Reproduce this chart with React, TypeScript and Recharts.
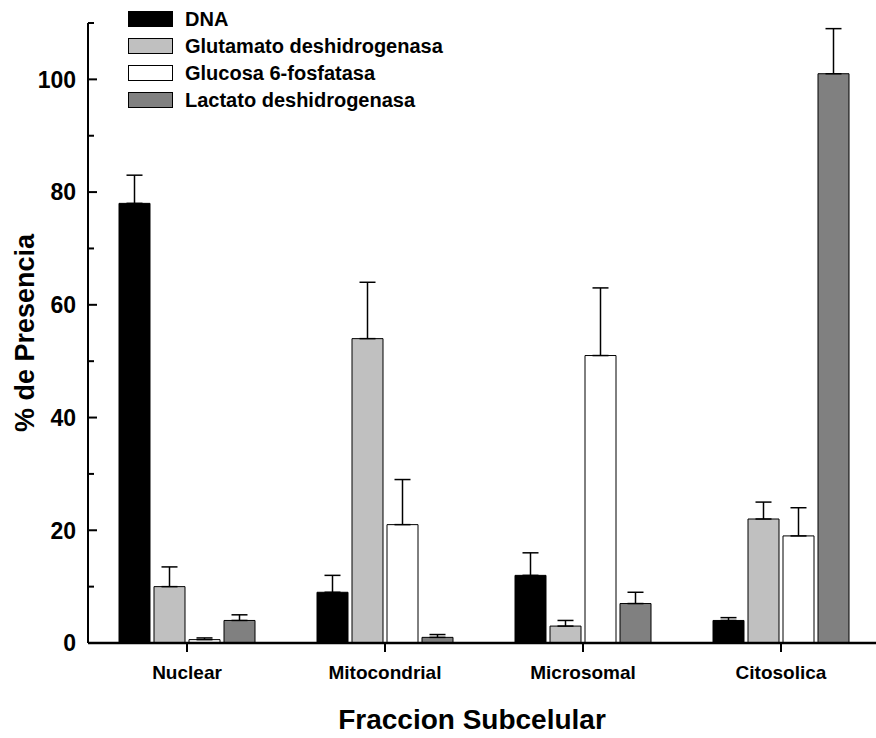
import { BarChart, Bar, XAxis, YAxis, ErrorBar } from "recharts";

const categories = ["Nuclear", "Mitocondrial", "Microsomal", "Citosolica"];

const dna = [78, 9, 12, 4];
const dnaErr = [5, 3, 4, 0.5];
const glut = [10, 54, 3, 22];
const glutErr = [3.5, 10, 1, 3];
const gluc = [0.6, 21, 51, 19];
const glucErr = [0.3, 8, 12, 5];
const ldh = [4, 1, 7, 101];
const ldhErr = [1, 0.5, 2, 8];

const yTicks = [0, 10, 20, 30, 40, 50, 60, 70, 80, 90, 100, 110];

const seriesInfo = [
  { key: "dna", name: "DNA", fill: "#000000" },
  { key: "glut", name: "Glutamato deshidrogenasa", fill: "#c0c0c0" },
  { key: "gluc", name: "Glucosa 6-fosfatasa", fill: "#ffffff" },
  { key: "ldh", name: "Lactato deshidrogenasa", fill: "#808080" },
];

const FONT = "'Liberation Sans', Arial, sans-serif";

const data = categories.map((c, i) => ({
  name: c,
  dna: dna[i],
  dnaErr: [0, dnaErr[i]],
  glut: glut[i],
  glutErr: [0, glutErr[i]],
  gluc: gluc[i],
  glucErr: [0, glucErr[i]],
  ldh: ldh[i],
  ldhErr: [0, ldhErr[i]],
}));

function YTick(props: any) {
  const { x, y, payload } = props;
  const major = payload.value % 20 === 0 && payload.value <= 100;
  return (
    <g>
      <line x1={x} x2={x + (major ? 9 : 6)} y1={y} y2={y} stroke="#000" strokeWidth={2} />
      {major && (
        <text
          x={x - 12}
          y={y}
          dy="0.36em"
          textAnchor="end"
          fontFamily={FONT}
          fontWeight="bold"
          fontSize={23}
          fill="#000"
        >
          {payload.value}
        </text>
      )}
    </g>
  );
}

// legend sits over the plot, top-left, like the original figure
function LegendBox() {
  return (
    <div
      style={{
        position: "absolute",
        left: 128,
        top: 5,
        fontFamily: FONT,
        fontWeight: "bold",
        fontSize: 20,
        lineHeight: "20px",
      }}
    >
      {seriesInfo.map((s) => (
        <div key={s.key} style={{ display: "flex", alignItems: "center", height: 27 }}>
          <div
            style={{
              width: 43,
              height: 14,
              background: s.fill,
              border: "1px solid #000",
              marginRight: 12,
            }}
          />
          <span>{s.name}</span>
        </div>
      ))}
    </div>
  );
}

export default function App() {
  return (
    <div
      style={{
        position: "absolute",
        left: 0,
        top: 0,
        width: 876,
        height: 738,
        overflow: "hidden",
        background: "#fff",
      }}
    >
      <BarChart
        width={884}
        height={738}
        data={data}
        margin={{ top: 23, right: 4, bottom: 0, left: 0 }}
        barSize={31}
        barGap={4}
      >
        <XAxis
          dataKey="name"
          height={95}
          axisLine={{ stroke: "#000", strokeWidth: 2.5 }}
          tickLine={{ stroke: "#000", strokeWidth: 2 }}
          tickSize={9}
          tickMargin={14}
          tick={{ fill: "#000", fontFamily: FONT, fontWeight: "bold", fontSize: 19 }}
          label={(p: any) => {
            const vb = p.viewBox;
            return (
              <text
                x={vb.x + vb.width / 2 - 12}
                y={729}
                textAnchor="middle"
                fontFamily={FONT}
                fontWeight="bold"
                fontSize={28}
                fill="#000"
              >
                Fraccion Subcelular
              </text>
            );
          }}
        />
        <YAxis
          width={88}
          domain={[0, 110]}
          ticks={yTicks}
          interval={0}
          axisLine={{ stroke: "#000", strokeWidth: 2 }}
          tickLine={false}
          tickSize={0}
          tickMargin={0}
          tick={<YTick />}
          label={(p: any) => {
            const vb = p.viewBox;
            const cy = vb.y + vb.height / 2;
            return (
              <text
                x={25}
                y={cy}
                transform={`rotate(-90 25 ${cy})`}
                textAnchor="middle"
                dominantBaseline="central"
                fontFamily={FONT}
                fontWeight="bold"
                fontSize={27}
                fill="#000"
              >
                % de Presencia
              </text>
            );
          }}
        />
        {seriesInfo.map((s) => (
          <Bar
            key={s.key}
            dataKey={s.key}
            name={s.name}
            fill={s.fill}
            stroke="#000"
            strokeWidth={1}
            isAnimationActive={false}
          >
            <ErrorBar
              dataKey={`${s.key}Err`}
              width={8}
              stroke="#000"
              strokeWidth={1.5}
              direction="y"
            />
          </Bar>
        ))}
      </BarChart>
      <LegendBox />
    </div>
  );
}
